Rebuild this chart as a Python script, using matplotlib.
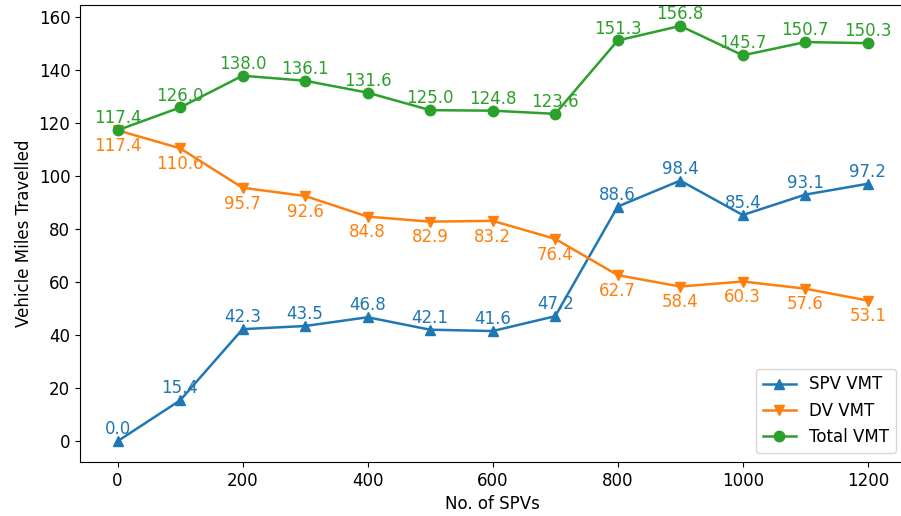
import matplotlib.pyplot as plt

# number of SPVs on the x axis
n_spvs = [0, 100, 200, 300, 400, 500, 600, 700, 800, 900, 1000, 1100, 1200]

# vehicle miles travelled per fleet mix
spv_vmt = [0.0, 15.4, 42.3, 43.5, 46.8, 42.1, 41.6, 47.2, 88.6, 98.4, 85.4, 93.1, 97.2]
dv_vmt = [117.4, 110.6, 95.7, 92.6, 84.8, 82.9, 83.2, 76.4, 62.7, 58.4, 60.3, 57.6, 53.1]
total_vmt = [117.4, 126.0, 138.0, 136.1, 131.6, 125.0, 124.8, 123.6, 151.3, 156.8, 145.7, 150.7, 150.3]

plt.rcParams["font.size"] = 12

fig = plt.figure(figsize=(9.01, 5.16), dpi=100)
# the right spine sits just past the image edge in the reference
ax = fig.add_axes([0.0888, 0.1047, 0.9160, 0.8853])

series = [
    (spv_vmt, "^", "SPV VMT", "C0", (0, 5)),
    (dv_vmt, "v", "DV VMT", "C1", (0, -15)),
    (total_vmt, "o", "Total VMT", "C2", (0, 5)),
]

for vals, marker, label, color, offset in series:
    ax.plot(n_spvs, vals, marker=marker, label=label, color=color,
            linewidth=1.8, markersize=7.5)
    # value labels next to each point
    for x, y in zip(n_spvs, vals):
        ax.annotate(f"{y:.1f}", (x, y), textcoords="offset points",
                    xytext=offset, ha="center", color=color)

ax.set_xlabel("No. of SPVs")
ax.set_ylabel("Vehicle Miles Travelled")
ax.legend(loc="lower right", borderaxespad=0.55)

fig.savefig("out.png", dpi=100)
